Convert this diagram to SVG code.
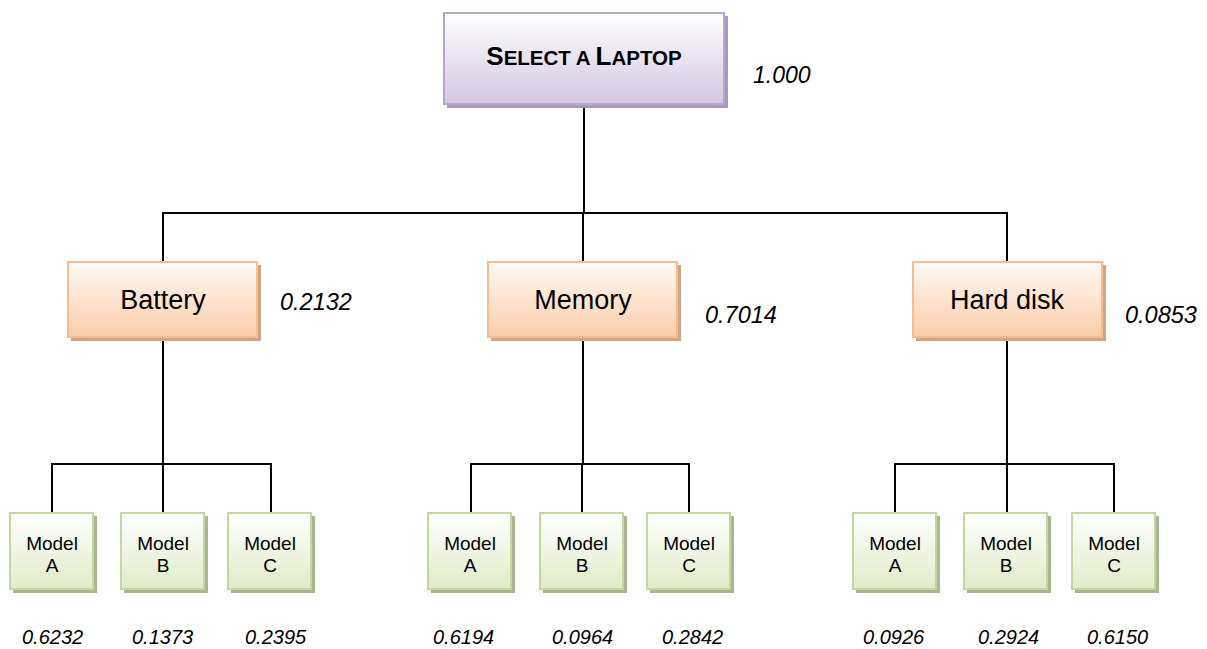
<svg xmlns="http://www.w3.org/2000/svg" width="1207" height="649" viewBox="0 0 1207 649">
  <defs>
    <linearGradient id="gTop" x1="0" y1="0" x2="0" y2="1">
      <stop offset="0" stop-color="#ffffff"/>
      <stop offset="1" stop-color="#d3c6e0"/>
    </linearGradient>
    <linearGradient id="gMid" x1="0" y1="0" x2="0" y2="1">
      <stop offset="0" stop-color="#fffaf6"/>
      <stop offset="1" stop-color="#fbcda8"/>
    </linearGradient>
    <linearGradient id="gLeaf" x1="0" y1="0" x2="0" y2="1">
      <stop offset="0" stop-color="#ffffff"/>
      <stop offset="1" stop-color="#e1ebc8"/>
    </linearGradient>
  </defs>
  <style>
    .top { fill: url(#gTop); stroke: #b7a6d0; stroke-width: 2; }
    .topS { fill: #a999b8; }
    .mid { fill: url(#gMid); stroke: #f8bd8e; stroke-width: 2; }
    .midS { fill: #d3a587; }
    .leaf { fill: url(#gLeaf); stroke: #c3d89e; stroke-width: 2; }
    .leafS { fill: #a9b690; }
    .lbl { font-family: "Liberation Sans", Arial, sans-serif; fill: #000; text-anchor: middle; }
    .crit { font-size: 27px; }
    .alt { font-size: 19px; }
    .w { font-family: "Liberation Sans", Arial, sans-serif; font-style: italic; fill: #000; }
    .wc { font-size: 23.5px; }
    .wa { font-size: 20px; }
    .conn { fill: none; stroke: #000; stroke-width: 2; }
  </style>

  <!-- connectors -->
  <g id="connectors" class="conn">
    <path d="M584 105V213M163 261V213H1007V261M583 213V261"/>
    <path d="M163 337V464M52 512V464H271V512M163 464V512"/>
    <path d="M583 337V464M471 512V464H689V512M582 464V512"/>
    <path d="M1007 337V464M895 512V464H1114V512M1007 464V512"/>
  </g>

  <!-- root -->
  <g id="root">
    <rect class="topS" x="447" y="16" width="281" height="92"/>
    <rect class="top" x="444" y="13" width="280" height="91"/>
    <text class="lbl" x="584" y="65" font-weight="bold" font-size="26">S<tspan font-size="20.5">ELECT A </tspan>L<tspan font-size="20.5">APTOP</tspan></text>
    <text class="w" x="753" y="83" font-size="23">1.000</text>
  </g>

  <!-- criteria -->
  <g id="battery">
    <rect class="midS" x="71" y="265" width="190" height="76"/>
    <rect class="mid" x="68" y="262" width="189" height="75"/>
    <text class="lbl crit" x="163" y="309">Battery</text>
    <text class="w wc" x="280" y="310">0.2132</text>
  </g>
  <g id="memory">
    <rect class="midS" x="491" y="265" width="190" height="76"/>
    <rect class="mid" x="488" y="262" width="189" height="75"/>
    <text class="lbl crit" x="583" y="309">Memory</text>
    <text class="w wc" x="705" y="323">0.7014</text>
  </g>
  <g id="harddisk">
    <rect class="midS" x="916" y="265" width="190" height="76"/>
    <rect class="mid" x="913" y="262" width="189" height="75"/>
    <text class="lbl crit" x="1007" y="309">Hard disk</text>
    <text class="w wc" x="1125" y="323">0.0853</text>
  </g>

  <!-- alternatives under Battery -->
  <g id="battery-a">
    <rect class="leafS" x="13" y="516" width="84" height="77"/>
    <rect class="leaf" x="10" y="513" width="83" height="76"/>
    <text class="lbl alt" x="52" y="550">Model</text>
    <text class="lbl alt" x="52" y="572">A</text>
    <text class="w wa" x="22" y="644">0.6232</text>
  </g>
  <g id="battery-b">
    <rect class="leafS" x="124" y="516" width="84" height="77"/>
    <rect class="leaf" x="121" y="513" width="83" height="76"/>
    <text class="lbl alt" x="163" y="550">Model</text>
    <text class="lbl alt" x="163" y="572">B</text>
    <text class="w wa" x="132" y="644">0.1373</text>
  </g>
  <g id="battery-c">
    <rect class="leafS" x="231" y="516" width="84" height="77"/>
    <rect class="leaf" x="228" y="513" width="83" height="76"/>
    <text class="lbl alt" x="270" y="550">Model</text>
    <text class="lbl alt" x="270" y="572">C</text>
    <text class="w wa" x="245" y="644">0.2395</text>
  </g>

  <!-- alternatives under Memory -->
  <g id="memory-a">
    <rect class="leafS" x="431" y="516" width="84" height="77"/>
    <rect class="leaf" x="428" y="513" width="83" height="76"/>
    <text class="lbl alt" x="470" y="550">Model</text>
    <text class="lbl alt" x="470" y="572">A</text>
    <text class="w wa" x="433" y="644">0.6194</text>
  </g>
  <g id="memory-b">
    <rect class="leafS" x="543" y="516" width="84" height="77"/>
    <rect class="leaf" x="540" y="513" width="83" height="76"/>
    <text class="lbl alt" x="582" y="550">Model</text>
    <text class="lbl alt" x="582" y="572">B</text>
    <text class="w wa" x="552" y="644">0.0964</text>
  </g>
  <g id="memory-c">
    <rect class="leafS" x="650" y="516" width="84" height="77"/>
    <rect class="leaf" x="647" y="513" width="83" height="76"/>
    <text class="lbl alt" x="689" y="550">Model</text>
    <text class="lbl alt" x="689" y="572">C</text>
    <text class="w wa" x="662" y="644">0.2842</text>
  </g>

  <!-- alternatives under Hard disk -->
  <g id="harddisk-a">
    <rect class="leafS" x="856" y="516" width="84" height="77"/>
    <rect class="leaf" x="853" y="513" width="83" height="76"/>
    <text class="lbl alt" x="895" y="550">Model</text>
    <text class="lbl alt" x="895" y="572">A</text>
    <text class="w wa" x="863" y="644">0.0926</text>
  </g>
  <g id="harddisk-b">
    <rect class="leafS" x="967" y="516" width="84" height="77"/>
    <rect class="leaf" x="964" y="513" width="83" height="76"/>
    <text class="lbl alt" x="1006" y="550">Model</text>
    <text class="lbl alt" x="1006" y="572">B</text>
    <text class="w wa" x="978" y="644">0.2924</text>
  </g>
  <g id="harddisk-c">
    <rect class="leafS" x="1075" y="516" width="84" height="77"/>
    <rect class="leaf" x="1072" y="513" width="83" height="76"/>
    <text class="lbl alt" x="1114" y="550">Model</text>
    <text class="lbl alt" x="1114" y="572">C</text>
    <text class="w wa" x="1087" y="644">0.6150</text>
  </g>
</svg>
